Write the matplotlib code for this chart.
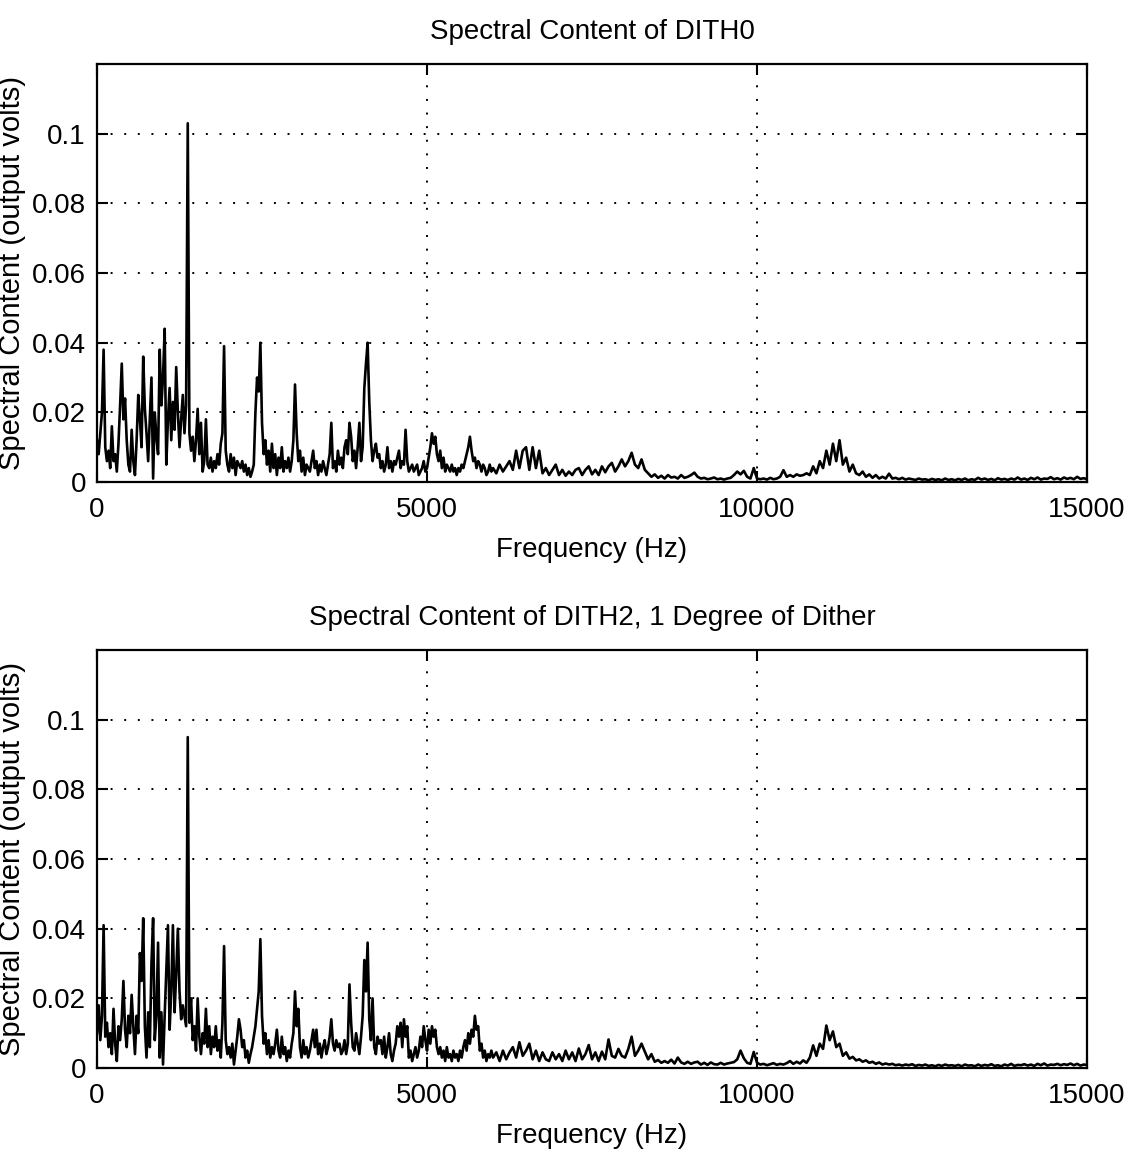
import numpy as np
import matplotlib
matplotlib.use("Agg")
import matplotlib.pyplot as plt

# spectra, in mV
# 0..5975 Hz on a 25 Hz grid, 6000..15000 Hz on a 50 Hz grid
freq_lo = np.arange(0, 6000, 25)
freq_hi = np.arange(6000, 15001, 50)

dith0_lo = [
    12, 8, 14, 20, 38, 10, 6, 9, 4, 16, 6, 8, 3, 11, 22, 34, 18, 24, 12, 5,
    3, 15, 6, 2, 12, 25, 18, 10, 36, 21, 14, 6, 18, 30, 1, 20, 13, 8, 38, 22,
    30, 44, 5, 18, 27, 12, 23, 15, 33, 20, 10, 18, 25, 14, 22, 103, 14, 9, 13, 6,
    12, 21, 8, 17, 3, 6, 18, 5, 4, 7, 3, 6, 4, 8, 5, 11, 14, 39, 9, 5,
    3, 8, 4, 7, 2, 6, 5, 4, 6, 3, 5, 2, 4, 1.5, 3, 5, 20, 30, 26, 40,
    17, 8, 12, 5, 9, 3, 11, 4, 8, 2, 7, 4, 10, 3, 6, 4, 7, 3, 6, 12,
    28, 14, 6, 9, 3, 7, 2, 5, 4, 3, 6, 9, 4, 6, 2, 5, 3, 6, 4, 2,
    5, 8, 17, 4, 6, 3, 9, 5, 7, 4, 10, 12, 8, 17, 13, 6, 9, 4, 10, 17,
    6, 10, 27, 34, 40, 23, 12, 6, 9, 11, 7, 8, 4, 6, 3, 5, 10, 4, 6, 3,
    6, 5, 7, 9, 4, 6, 5, 15, 6, 3, 4, 5, 3, 4, 5, 2, 3, 4, 6, 3,
    4, 7, 10, 14, 11, 13, 8, 6, 9, 4, 7, 3, 5, 4, 3, 5, 3, 4, 2, 4,
    3, 5, 4, 6, 8, 10, 13, 9, 6, 7, 4, 6, 5, 3, 5, 4, 2, 3, 5, 3,
]
dith0_hi = [
    4, 2.5, 5, 3, 4.5, 6, 3.5, 9, 4, 9, 10, 3.5, 10, 4, 9, 2.5, 4, 2, 3.5, 5,
    2, 3.5, 1.8, 3, 2, 3.5, 4, 2, 3.5, 4.5, 2.2, 3.5, 2, 4.5, 2.8, 4.5, 5.5, 3, 4.5, 6.5,
    4.5, 6, 8.4, 5, 4, 6.5, 3.5, 2.5, 1.5, 2.2, 1.2, 1.8, 1, 2, 1.3, 1.5, 1, 2, 1.2, 1.5,
    2, 2.7, 1.5, 1, 1.2, 0.8, 1, 1.3, 0.8, 1, 0.7, 1, 1.2, 2, 3, 2.2, 3.2, 1.5, 1, 4,
    1, 0.8, 1, 0.7, 1.2, 0.8, 1, 1.5, 3.4, 1.5, 2, 1.5, 2.2, 1.8, 2, 2.5, 2, 4.5, 2.5, 6,
    4, 9, 5, 11, 6, 12, 5, 7, 3, 5, 2.5, 2, 3, 1.5, 2.2, 1.2, 2, 1, 1.5, 1,
    2.4, 1, 1.2, 0.8, 1.2, 0.7, 1, 0.8, 0.6, 1, 0.7, 0.8, 0.5, 0.9, 0.6, 0.8, 0.5, 1, 0.6, 0.8,
    0.5, 0.9, 0.6, 1, 0.5, 0.8, 0.6, 1.2, 0.7, 1, 0.6, 0.9, 0.5, 1.1, 0.7, 0.9, 0.6, 1, 0.7, 1.3,
    0.7, 1, 0.6, 1.2, 0.8, 1.3, 0.7, 1, 0.9, 1.4, 0.8, 1.1, 0.7, 1.3, 0.9, 1.2, 0.8, 1.5, 0.9, 1.1,
    0.8,
]

dith2_lo = [
    10, 18, 8, 15, 41, 9, 13, 6, 10, 4, 17, 7, 2, 12, 8, 14, 25, 11, 6, 15,
    10, 21, 12, 4, 15, 10, 33, 25, 43, 12, 3, 16, 6, 30, 43, 8, 15, 36, 3, 16,
    1, 15, 28, 41, 11, 22, 41, 16, 27, 40, 22, 14, 18, 15, 12, 95, 13, 20, 8, 12,
    5, 20, 9, 4, 10, 7, 17, 6, 12, 4, 9, 6, 12, 5, 8, 3, 13, 35, 8, 4,
    6, 3, 7, 1, 5, 9, 14, 11, 6, 8, 3, 5, 1.5, 4, 6, 9, 12, 17, 22, 37,
    15, 7, 10, 4, 8, 3, 6, 4, 7, 11, 5, 3, 9, 4, 6, 2, 5, 3, 7, 10,
    22, 12, 17, 6, 3, 8, 4, 6, 3, 5, 8, 11, 6, 11, 4, 7, 3, 6, 8, 4,
    6, 9, 14, 7, 5, 8, 6, 7, 4, 5, 8, 4, 7, 24, 13, 6, 5, 10, 7, 4,
    9, 15, 31, 22, 36, 14, 8, 20, 6, 4, 9, 7, 8, 4, 9, 3, 6, 10, 4, 2,
    5, 7, 12, 9, 13, 6, 14, 9, 12, 3, 5, 2, 4, 6, 3, 5, 9, 6, 12, 8,
    5, 11, 7, 12, 9, 11, 6, 4, 6, 3, 5, 2, 6, 3, 4, 2, 5, 3, 4, 2,
    5, 3, 6, 8, 5, 10, 7, 11, 9, 15, 11, 12, 5, 7, 3, 5, 2, 4, 3, 5,
]
dith2_hi = [
    3, 4.5, 2, 5, 2.5, 4.5, 6, 3, 7.4, 3.5, 5, 7, 2.5, 5, 2, 4.5, 2.5, 2, 4.5, 2.5,
    4, 2, 5, 2.5, 4.5, 2, 5.6, 2.5, 4, 6.6, 2.5, 4.5, 2, 4.7, 2.5, 8.2, 3.5, 3, 5.5, 3.5,
    3, 5.5, 9, 3.5, 5, 7, 4.7, 2.5, 4, 1.8, 2.3, 1.5, 2, 1.5, 2.4, 1.3, 3, 1.6, 1.2, 1.8,
    1.2, 1.6, 1.8, 1, 1.5, 0.9, 1.6, 1.1, 1, 1.5, 1, 1.3, 1.5, 1.7, 2.5, 5, 2.8, 1.5, 1.2, 4.6,
    1.5, 1, 1.2, 0.8, 1.1, 1.4, 0.9, 1.2, 1, 1.4, 2, 1.2, 1.8, 1.3, 2.2, 1.5, 3, 6.5, 3.5, 7,
    5.5, 12.2, 8, 10.5, 6, 7, 3.5, 4.5, 2.7, 3.2, 2.2, 2.5, 1.8, 2.2, 1.5, 1.8, 1.2, 1.6, 1, 1.3,
    1, 1.2, 0.8, 1, 0.7, 1, 0.8, 1.1, 0.6, 0.9, 0.7, 1, 0.6, 0.8, 0.5, 0.9, 0.6, 1, 0.7, 0.8,
    0.6, 0.9, 0.5, 1, 0.7, 0.8, 0.5, 1, 0.6, 0.9, 0.7, 1.1, 0.6, 0.8, 0.5, 1, 0.7, 1.2, 0.6, 0.9,
    0.8, 1.1, 0.7, 1, 0.6, 1.2, 0.8, 1.3, 0.7, 1, 0.9, 1.2, 0.8, 1.1, 0.9, 1.3, 0.8, 1.2, 0.7, 1,
    0.9,
]

titles = ["Spectral Content of DITH0", "Spectral Content of DITH2, 1 Degree of Dither"]
xticks = [0, 5000, 10000, 15000]
yticks = [0, 0.02, 0.04, 0.06, 0.08, 0.1]
ytick_labels = ["0", "0.02", "0.04", "0.06", "0.08", "0.1"]

freq = np.concatenate([freq_lo, freq_hi])
spectra = [np.concatenate([dith0_lo, dith0_hi]) / 1000.0,
           np.concatenate([dith2_lo, dith2_hi]) / 1000.0]

plt.rcParams["font.family"] = ["Liberation Sans", "DejaVu Sans"]

fig = plt.figure(figsize=(11.28, 11.54), dpi=100)
boxes = [[0.086, 0.5823, 0.8777, 0.3622], [0.086, 0.0745, 0.8777, 0.3622]]

for box, title, amp in zip(boxes, titles, spectra):
    ax = fig.add_axes(box)
    ax.plot(freq, amp, color="black", lw=1.9)
    ax.set_xlim(0, 15000)
    ax.set_ylim(0, 0.12)
    ax.set_xticks(xticks)
    ax.set_xticklabels([str(t) for t in xticks])
    ax.set_yticks(yticks)
    ax.set_yticklabels(ytick_labels)
    ax.tick_params(direction="in", length=8, width=1.5, labelsize=20,
                   top=True, right=True)
    ax.tick_params(axis="x", pad=11)
    ax.tick_params(axis="y", pad=8)
    for s in ax.spines.values():
        s.set_linewidth(1.6)
    ax.grid(True, color="black", linestyle=(0, (1, 6)), linewidth=1.4)
    ax.set_title(title, fontsize=20, pad=18)
    ax.set_xlabel("Frequency (Hz)", fontsize=20, labelpad=10)
    ax.set_ylabel("Spectral Content (output volts)", fontsize=21, labelpad=4)

fig.savefig("out.png", dpi=100)
